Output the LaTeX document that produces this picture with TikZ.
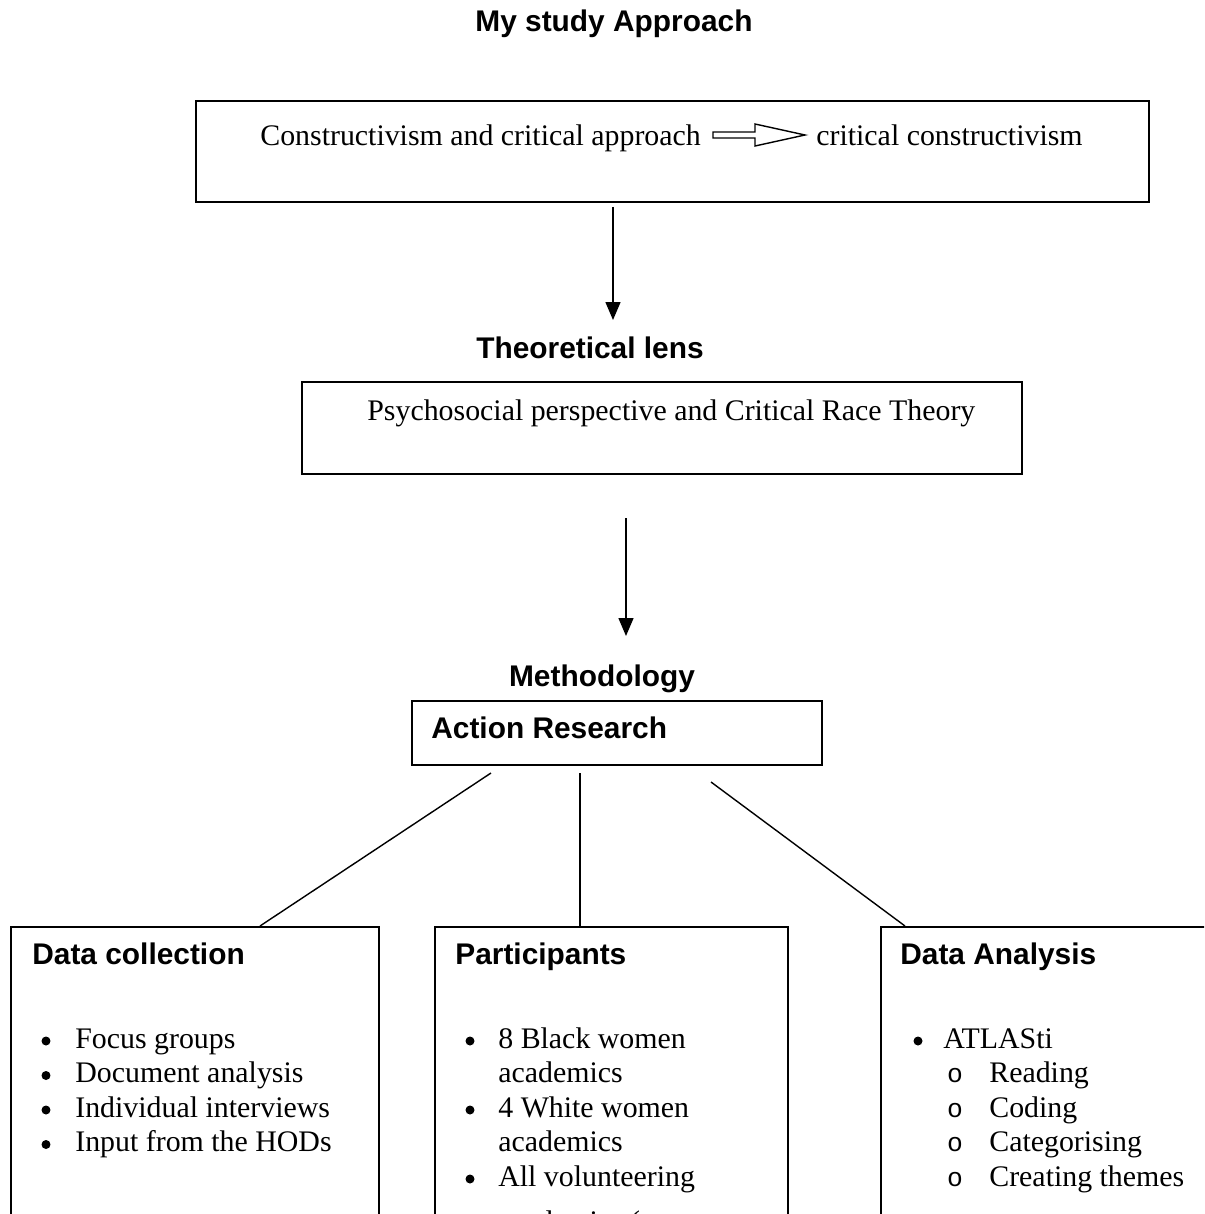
\documentclass[tikz,border=0pt]{standalone}
\usepackage{fontspec}
\setmainfont{Liberation Serif}
\newfontfamily\headfont{Liberation Sans}
\newfontfamily\monofont{Liberation Mono}
\usepackage{tikz}
\usetikzlibrary{arrows.meta,positioning,calc}
\usepackage{xcolor}

\tikzset{
  frame/.style={draw, line width=1.1pt, inner sep=0pt, anchor=north west},
  head/.style={font=\headfont\bfseries\fontsize{17}{20}\selectfont, inner sep=0pt},
  body/.style={font=\fontsize{17}{20}\selectfont, inner sep=0pt, anchor=base west},
  dot/.style={circle, fill, inner sep=0pt, minimum size=0.18cm},
  flow/.style={line width=0.8pt, -{Triangle[length=0.36cm, width=0.3cm]}},
  link/.style={line width=0.8pt}
}

\begin{document}
\begin{tikzpicture}[x=0.02cm, y=-0.02cm]
  \useasboundingbox (0,0) rectangle (1204,1214);
  \clip (0,0) rectangle (1204,1214);

  %% Title
  \node[head, anchor=base] (title) at (614,31) {My study Approach};

  %% Paradigm
  \node[frame, minimum width=19.06cm, minimum height=2.02cm] (approach) at (195,100) {};
  \node[body] (src) at (260,145) {Constructivism and critical approach};
  \draw[line width=0.8pt] (713,132) -- (755,132) -- (755,124) -- (805,135)
    -- (755,146) -- (755,138) -- (713,138) -- cycle;
  \node[body] (dst) at (816,145) {critical constructivism};

  \coordinate (tip1) at (613,320);
  \draw[flow, shorten <=0.08cm] (approach.south -| tip1) -- (tip1);

  %% Theoretical lens
  \node[head, anchor=base] (lenshead) at (590,358) {Theoretical lens};
  \node[frame, minimum width=14.4cm, minimum height=1.84cm] (lens) at (301,381) {};
  \node[body] (lenstext) at (367,420) {Psychosocial perspective and Critical Race Theory};

  \coordinate (tail2) at (626,518);
  \coordinate (tip2) at (626,636);
  \draw[flow] (tail2) -- (tip2);

  %% Methodology
  \node[head, anchor=base] (methhead) at (602,686) {Methodology};
  \node[frame, minimum width=8.2cm, minimum height=1.28cm] (action) at (411,700) {};
  \node[head, anchor=base west] (actiontext) at (431,738) {Action Research};

  %% Bottom boxes
  \node[frame, minimum width=7.36cm, minimum height=8cm] (dc) at (10,926) {};
  \node[frame, minimum width=7.06cm, minimum height=8cm] (pt) at (434,926) {};
  \node[frame, minimum width=8cm, minimum height=8cm] (da) at (880,926) {};

  \coordinate (l1) at (491,773);
  \coordinate (l2) at (580,773);
  \coordinate (l3) at (711,782);
  \draw[link] (l1) -- ($(dc.north west)+(250,0)$);
  \draw[link] (l2) -- ($(pt.north west)+(146,0)$);
  \draw[link] (l3) -- ($(da.north west)+(25,0)$);

  %% Data collection
  \node[head, anchor=base west] (dchead) at (32,964) {Data collection};
  \foreach \txt [count=\i] in {Focus groups, Document analysis,
      Individual interviews, Input from the HODs} {
    \node[dot] (dcb\i) at (46,1041+34.5*\i-34.5) {};
    \node[body] (dct\i) at (75,1048+34.5*\i-34.5) {\txt};
  }

  %% Participants
  \node[head, anchor=base west] (pthead) at (455,964) {Participants};
  \foreach \y [count=\i] in {1041,1110,1179}
    \node[dot] (ptb\i) at (470,\y) {};
  \foreach \txt [count=\i] in {8 Black women, academics, 4 White women,
      academics, All volunteering} {
    \node[body] (ptt\i) at (498,1048+34.5*\i-34.5) {\txt};
  }
  \node[body] (ptt6) at (498,1231) {academics (};

  %% Data analysis
  \node[head, anchor=base west] (dahead) at (900,964) {Data Analysis};
  \node[dot] (dab) at (918,1041) {};
  \node[body] (dat) at (943,1048) {ATLASti};
  \foreach \txt [count=\i] in {Reading, Coding, Categorising, Creating themes} {
    \node[body, anchor=base, font=\monofont\fontsize{15}{17}\selectfont] (dasb\i) at (955,1048+34.5*\i) {o};
    \node[body] (dast\i) at (989,1048+34.5*\i) {\txt};
  }
\end{tikzpicture}
\end{document}
